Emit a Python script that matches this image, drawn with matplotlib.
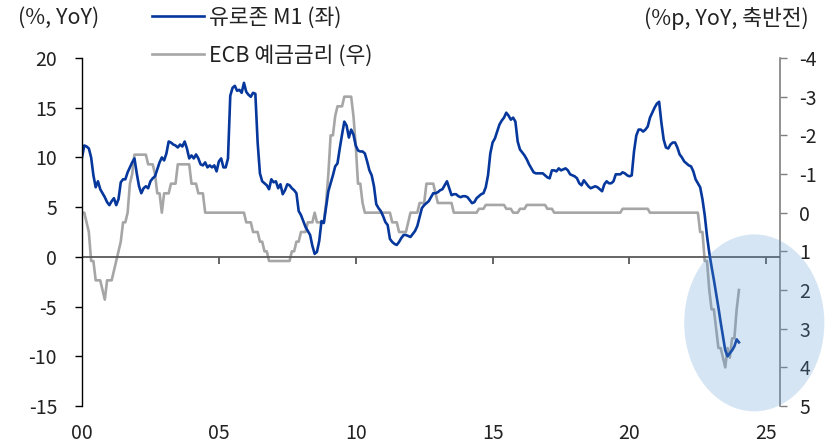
import numpy as np
import matplotlib
matplotlib.use("Agg")
import matplotlib.pyplot as plt
from matplotlib.patches import Ellipse

plt.rcParams["font.family"] = ["Noto Sans CJK KR", "DejaVu Sans"]
plt.rcParams["axes.unicode_minus"] = False

# Monthly series, first point at the start of 2000
start_year = 2000

# Euro area M1, % YoY (left axis)
m1_yoy = [
    10.0, 11.2, 11.1, 10.9, 10.0, 8.2, 7.0, 7.6, 6.8, 6.4, 6.0, 5.5,        # 2000
    5.2, 5.6, 5.9, 5.2, 5.8, 7.5, 7.8, 7.8, 8.5, 9.0, 9.5, 9.9,             # 2001
    8.4, 7.1, 6.4, 6.9, 7.1, 6.9, 7.6, 7.9, 8.1, 8.8, 9.5, 10.0,            # 2002
    9.7, 10.4, 11.6, 11.5, 11.3, 11.2, 11.0, 11.3, 11.1, 11.6, 10.9, 9.9,   # 2003
    10.2, 9.9, 10.3, 9.9, 9.3, 9.2, 9.5, 9.0, 9.2, 9.0, 9.2, 8.6,           # 2004
    9.6, 9.9, 9.0, 9.0, 9.9, 16.2, 17.0, 17.2, 16.7, 16.8, 16.5, 17.5,      # 2005
    16.6, 16.3, 16.1, 16.5, 16.4, 11.5, 8.4, 7.6, 7.4, 7.2, 6.8, 7.8,       # 2006
    7.5, 7.6, 6.9, 7.3, 6.3, 6.7, 7.3, 7.2, 6.9, 6.7, 6.4, 4.6,             # 2007
    4.2, 3.6, 3.0, 2.6, 2.2, 1.1, 0.3, 0.5, 1.6, 3.6, 3.4, 5.0,             # 2008
    6.6, 7.4, 8.2, 9.1, 9.4, 10.9, 12.3, 13.6, 13.2, 12.0, 12.8, 12.3,      # 2009
    11.2, 10.7, 10.6, 10.6, 10.4, 9.6, 8.7, 8.2, 7.1, 5.3, 4.9, 4.6,        # 2010
    4.1, 3.5, 3.2, 1.8, 1.5, 1.3, 1.2, 1.5, 1.9, 2.2, 2.2, 2.1,             # 2011
    2.0, 2.3, 2.6, 3.1, 4.0, 4.9, 5.2, 5.4, 5.6, 6.0, 6.4, 6.4,             # 2012
    6.5, 6.7, 6.8, 7.2, 7.6, 6.9, 6.2, 6.3, 6.3, 6.1, 6.0, 6.1,             # 2013
    6.1, 6.0, 5.7, 5.4, 5.5, 5.9, 6.1, 6.3, 6.4, 7.0, 8.2, 10.4,            # 2014
    11.5, 11.9, 12.6, 13.3, 13.7, 14.0, 14.5, 14.2, 13.8, 14.0, 13.6, 11.6, # 2015
    10.8, 10.5, 10.2, 9.8, 9.3, 8.9, 8.5, 8.4, 8.4, 8.4, 8.4, 8.2,          # 2016
    8.0, 7.9, 8.7, 8.7, 8.6, 8.9, 8.7, 8.8, 8.9, 8.7, 8.3, 8.2,             # 2017
    8.1, 7.9, 7.4, 7.2, 7.7, 7.4, 7.1, 6.9, 7.0, 7.1, 7.0, 6.8,             # 2018
    6.6, 7.3, 7.6, 7.4, 7.4, 7.6, 8.3, 8.3, 8.3, 8.5, 8.4, 8.2,             # 2019
    8.1, 8.2, 10.6, 12.2, 12.8, 12.8, 12.6, 12.8, 13.1, 14.0, 14.5, 15.0,   # 2020
    15.4, 15.6, 13.5, 11.8, 11.0, 10.9, 11.3, 11.5, 11.5, 11.0, 10.3, 10.0, # 2021
    9.6, 9.4, 9.2, 9.1, 8.6, 7.8, 7.4, 7.0, 5.8, 4.2, 2.1, 0.4,             # 2022
    -1.0, -2.3, -3.7, -5.1, -6.6, -8.0, -9.4, -10.0, -9.7, -9.4, -9.0, -8.3,  # 2023
    -8.6,
]

# ECB deposit facility rate, %p YoY change (right axis, inverted)
ecb_yoy = [
    0.0,
    0.0, 0.25, 0.5, 1.25, 1.25, 1.75, 1.75, 1.75, 2.0, 2.25, 1.75, 1.75,
    1.75, 1.5, 1.25, 1.0, 0.75, 0.25, 0.25, 0.0, -0.75, -1.0, -1.5, -1.5,
    -1.5, -1.5, -1.5, -1.5, -1.25, -1.25, -1.25, -1.0, -0.5, -0.5, 0.0, -0.5,
    -0.5, -0.5, -0.75, -0.75, -0.75, -1.25, -1.25, -1.25, -1.25, -1.25, -1.25, -0.75,
    -0.75, -0.75, -0.5, -0.5, -0.5, 0.0, 0.0, 0.0, 0.0, 0.0, 0.0, 0.0,
    0.0, 0.0, 0.0, 0.0, 0.0, 0.0, 0.0, 0.0, 0.0, 0.0, 0.0, 0.25,
    0.25, 0.25, 0.5, 0.5, 0.5, 0.75, 0.75, 1.0, 1.0, 1.25, 1.25, 1.25,
    1.25, 1.25, 1.25, 1.25, 1.25, 1.25, 1.25, 1.0, 1.0, 0.75, 0.75, 0.5,
    0.5, 0.5, 0.25, 0.25, 0.25, 0.0, 0.25, 0.25, 0.25, 0.25, -0.25, -1.0,
    -2.0, -2.0, -2.5, -2.75, -2.75, -2.75, -3.0, -3.0, -3.0, -3.0, -2.5, -1.75,
    -0.75, -0.75, -0.25, 0.0, 0.0, 0.0, 0.0, 0.0, 0.0, 0.0, 0.0, 0.0,
    0.0, 0.0, 0.0, 0.25, 0.25, 0.25, 0.5, 0.5, 0.5, 0.5, 0.25, 0.0,
    0.0, 0.0, 0.0, -0.25, -0.25, -0.25, -0.75, -0.75, -0.75, -0.75, -0.5, -0.25,
    -0.25, -0.25, -0.25, -0.25, -0.25, -0.25, 0.0, 0.0, 0.0, 0.0, 0.0, 0.0,
    0.0, 0.0, 0.0, 0.0, 0.0, -0.1, -0.1, -0.1, -0.2, -0.2, -0.2, -0.2,
    -0.2, -0.2, -0.2, -0.2, -0.2, -0.1, -0.1, -0.1, 0.0, 0.0, 0.0, -0.1,
    -0.1, -0.1, -0.2, -0.2, -0.2, -0.2, -0.2, -0.2, -0.2, -0.2, -0.2, -0.1,
    -0.1, -0.1, 0.0, 0.0, 0.0, 0.0, 0.0, 0.0, 0.0, 0.0, 0.0, 0.0,
    0.0, 0.0, 0.0, 0.0, 0.0, 0.0, 0.0, 0.0, 0.0, 0.0, 0.0, 0.0,
    0.0, 0.0, 0.0, 0.0, 0.0, 0.0, 0.0, 0.0, -0.1, -0.1, -0.1, -0.1,
    -0.1, -0.1, -0.1, -0.1, -0.1, -0.1, -0.1, -0.1, 0.0, 0.0, 0.0, 0.0,
    0.0, 0.0, 0.0, 0.0, 0.0, 0.0, 0.0, 0.0, 0.0, 0.0, 0.0, 0.0,
    0.0, 0.0, 0.0, 0.0, 0.0, 0.0, 0.5, 0.5, 1.25, 1.25, 2.0, 2.5,
    2.5, 3.0, 3.5, 3.5, 3.75, 4.0, 3.5, 3.75, 3.25, 3.25, 2.5, 2.0,
]

x_ticks = [2000, 2005, 2010, 2015, 2020, 2025]
x_labels = ["00", "05", "10", "15", "20", "25"]
left_ticks = list(range(-15, 21, 5))
right_ticks = list(range(-4, 6))

label_m1 = "유로존 M1 (좌)"
label_ecb = "ECB 예금금리 (우)"
title_left = "(%, YoY)"
title_right = "(%p, YoY, 축반전)"

# highlighted recent period (centre year, centre value, width in years, height in %)
highlight = dict(cx=2024.56, cy=-6.64, w=5.12, h=17.8)

blue = "#06379c"
grey = "#a6a6a6"
text_col = "#222222"
fs_tick = 14
fs_text = 15.5

fig = plt.figure(figsize=(8.34, 4.46), dpi=100)
ax = fig.add_axes([82 / 834, 40 / 446, 698 / 834, 348 / 446])
ax2 = ax.twinx()
ax.set_zorder(2)
ax.patch.set_visible(False)
ax2.set_zorder(1)

x = start_year + np.arange(len(m1_yoy)) / 12
x_ecb = start_year + np.arange(len(ecb_yoy)) / 12

l2, = ax2.plot(x_ecb, ecb_yoy, color=grey, lw=1.9, solid_joinstyle="round")
l1, = ax.plot(x, m1_yoy, color=blue, lw=1.9, solid_joinstyle="round")

ax.set_xlim(2000, 2025.5)
ax.set_ylim(-15, 20)
ax2.set_ylim(5, -4)

# zero line with its year ticks
ax.axhline(0, color="#595959", lw=1.3, zorder=1)
ax.vlines(x_ticks[1:], -0.7, 0, color="#595959", lw=1.3, zorder=1)

ax.set_xticks(x_ticks)
ax.set_xticklabels(x_labels)
ax.tick_params(axis="x", length=0, pad=12, labelsize=fs_tick, colors=text_col)
ax.set_yticks(left_ticks)
ax.tick_params(axis="y", direction="out", length=5, width=1.0, pad=13,
               labelsize=fs_tick, color="black", labelcolor=text_col)
ax2.set_yticks(right_ticks)
ax2.tick_params(axis="y", direction="out", length=5, width=1.0, pad=9,
                labelsize=fs_tick, color="#7f7f7f", labelcolor=text_col)

for s in ("top", "bottom", "right"):
    ax.spines[s].set_visible(False)
for s in ("top", "bottom", "left"):
    ax2.spines[s].set_visible(False)
ax.spines["left"].set_color("black")
ax.spines["left"].set_linewidth(1.0)
ax2.spines["right"].set_color("#7f7f7f")
ax2.spines["right"].set_linewidth(1.2)

ell = Ellipse((highlight["cx"], highlight["cy"]), highlight["w"], highlight["h"],
              facecolor="#5b9bd5", edgecolor="none", alpha=0.25,
              zorder=10, clip_on=False)
ax.add_patch(ell)

fig.text(18 / 834, 1 - 18 / 446, title_left, ha="left", va="center",
         fontsize=fs_text, color=text_col)
fig.text(809 / 834, 1 - 18 / 446, title_right, ha="right", va="center",
         fontsize=fs_text, color=text_col)

fig.legend([l1, l2], [label_m1, label_ecb], loc="upper left",
           bbox_to_anchor=(152 / 834, 1 - 7 / 446), bbox_transform=fig.transFigure,
           frameon=False, fontsize=fs_text, handlelength=2.4, handletextpad=0.25,
           labelspacing=0.72, borderpad=0, borderaxespad=0, labelcolor=text_col)

fig.savefig("out.png", dpi=100)
